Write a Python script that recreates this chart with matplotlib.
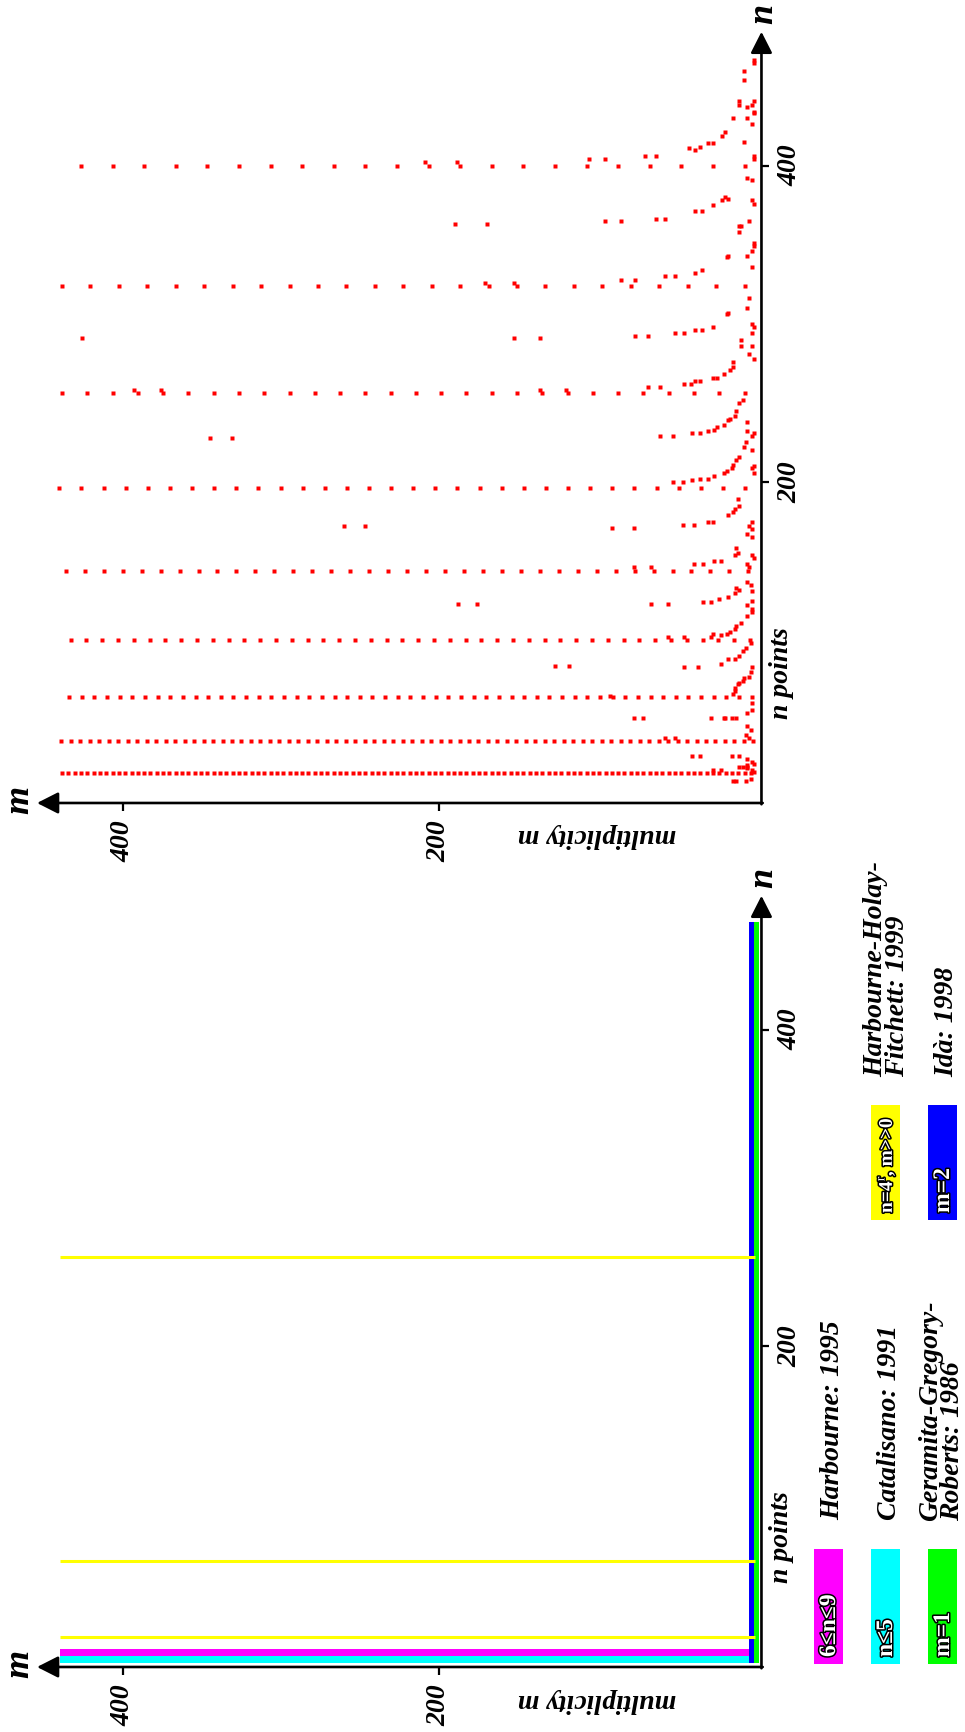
import numpy as np
import matplotlib
matplotlib.use("Agg")
import matplotlib.pyplot as plt
import matplotlib.patheffects as pe
from matplotlib.patches import Rectangle

# ---------------- data ----------------
# full rows at n = k^2 (k even): one point every k in m, from the first m read
# off the picture up to m_max
row_n = [16, 36, 64, 100, 144, 196, 256, 324, 400]
row_step = [4, 6, 8, 10, 12, 14, 16, 18, 20]
row_mfirst = [2.8, 1.2, 2.3, 3.4, 4.4, 6.5, 6.8, 6.8, 6.8]
row_mmax = 441

# scattered points (n, m)
extra_n = [465, 467, 460, 454, 441, 438, 434, 433, 441, 438, 437, 430, 430, 426, 421, 419,
           414, 414, 411, 410, 412, 415, 406, 404, 404, 404, 406, 406, 402, 402,
           392, 391, 380, 379, 378, 375, 371, 371, 366, 366, 365, 365, 363, 363, 378, 376,
           365, 362, 362, 358,
           351, 349, 346, 343, 343, 342, 336, 332, 334, 330, 330, 328, 328, 326, 326,
           316, 310, 306, 307, 300, 298, 294, 298, 296, 296, 294, 294, 292, 292, 291, 291,
           290, 286, 286, 291,
           281, 278, 276, 273, 271, 268, 266, 266, 264, 264, 262, 262, 260, 260, 258, 258,
           258, 258,
           229, 229, 231, 231, 232, 233, 235, 236, 239, 240, 242, 245, 250, 252, 238, 232,
           231, 229, 225, 222, 220, 228, 228,
           210, 209, 206, 216, 214, 211, 209, 207, 206, 204, 202, 202, 201, 200, 200,
           189, 185, 183, 181, 179, 175, 175, 173, 173, 171, 171, 172, 172, 175, 172, 170,
           167, 165,
           158, 155, 154, 150, 150, 148, 148, 146, 146, 154, 152, 148, 146,
           133, 132, 130, 127, 126, 124, 124, 123, 123, 123, 123, 137, 135, 131, 125, 122,
           120, 118, 115,
           111, 109, 107, 105, 104, 103, 104, 102, 102, 102,
           98, 95, 93, 90, 88, 88, 85, 83, 83, 84, 84,
           83, 80, 77, 76, 74, 73, 72, 70, 68, 66, 65,
           60, 56, 54, 51, 51, 51, 51, 51, 51, 51,
           46, 43, 40, 38, 38, 38,
           27, 27, 27, 27, 20, 20, 20, 18, 18, 25, 23, 22, 21, 19, 18, 17,
           11, 11, 11, 12]
extra_m = [1, 1, 7, 7, 1, 2, 1, 1, 10, 10, 5, 14, 5, 2, 19, 21,
           30, 27, 42, 38, 35, 7, 1, 1, 105, 95, 70, 63, 209, 189,
           5, 2, 19, 17, 21, 27, 38, 34, 63, 57, 95, 85, 190, 170, 2, 1,
           4, 10, 9, 10,
           1, 1, 2, 5, 17, 18, 2, 38, 34, 57, 51, 85, 76, 171, 153,
           4, 5, 18, 17, 2, 1, 2, 27, 38, 34, 51, 45, 76, 68, 153, 136,
           9, 9, 2, 426,
           4, 1, 14, 14, 16, 20, 24, 27, 35, 38, 45, 41, 68, 60, 393, 376,
           136, 120,
           60, 52, 40, 35, 30, 26, 24, 20, 17, 16, 13, 12, 10, 8, 5, 5,
           1, 2, 6, 7, 2, 345, 331,
           1, 2, 1, 10, 12, 14, 15, 18, 20, 26, 30, 35, 40, 46, 52,
           11, 10, 13, 14, 17, 27, 30, 39, 46, 77, 91, 260, 247, 2, 4, 2,
           5, 2,
           12, 11, 13, 22, 26, 33, 39, 77, 66, 2, 1, 5, 4,
           12, 10, 13, 17, 23, 28, 33, 55, 66, 188, 176, 5, 3, 2, 2, 5,
           2, 2, 5,
           9, 12, 13, 16, 18, 22, 27, 28, 45, 55,
           3, 6, 8, 10, 13, 17, 22, 36, 45, 127, 118,
           2, 3, 4, 7, 8, 10, 11, 13, 13, 14, 92,
           2, 2, 5, 12, 15, 19, 20, 28, 71, 77,
           5, 3, 6, 4, 57, 51,
           40, 35, 15, 10, 10, 8, 5, 27, 22, 5, 2, 1, 5, 5, 2, 1,
           14, 12, 6, 3]

# known-case regions (bottom panel)
yellow_n = [4, 16, 64, 256]          # n = 4^r
cyan_band = (-0.4, 4.0)              # n <= 5
magenta_band = (4.0, 8.5)            # 6 <= n <= 9
green_band = (-2.2, 0.8)             # m = 1
blue_band = (0.8, 3.8)               # m = 2
band_mmax = 440
strip_nmax = 468

legend_box_labels = ["6\u2264n\u22649", "n\u22645", "m=1", "n=4$^\\mathrm{r}$, m>>0", "m=2"]
legend_texts = ["Harbourne: 1995", "Catalisano: 1991", "Geramita-Gregory-\nRoberts: 1986",
                "Harbourne-Holay-\nFitchett: 1999", "Id\u00e0: 1998"]

# ---------------- layout ----------------
W, H = 965, 1732
plt.rcParams["font.family"] = ["Liberation Serif", "DejaVu Serif"]
plt.rcParams["mathtext.fontset"] = "custom"
plt.rcParams["mathtext.rm"] = "Liberation Serif"
fig = plt.figure(figsize=(W / 100, H / 100), dpi=100)

M0, MPX = 755.3, 1.58      # pixel column of m=0, pixels per unit m
NPX = 1.582                # pixels per unit n
BI = dict(fontstyle="italic", fontweight="bold")


def make_panel(top, bottom, n0):
    ax = fig.add_axes([0, 1 - bottom / H, 1, (bottom - top) / H])
    ax.set_xlim(M0 / MPX, (M0 - W) / MPX)
    ax.set_ylim((n0 - bottom) / NPX, (n0 - top) / NPX)
    ax.patch.set_visible(False)
    for s in ax.spines.values():
        s.set_visible(False)
    org_m, org_n = -3.9, -2.9
    ax.spines["bottom"].set_position(("data", org_n))
    ax.spines["right"].set_position(("data", org_m))
    ax.yaxis.tick_right()
    ax.set_xticks([200, 400], labels=["200", "400"], rotation=90, fontsize=20, **BI)
    ax.set_yticks([200, 400], labels=["200", "400"], rotation=90, fontsize=20, va="center", **BI)
    ax.tick_params(axis="x", direction="out", length=5.8, width=1.6, pad=7)
    ax.tick_params(axis="y", direction="out", length=5.8, width=1.6, pad=5.4)
    arrow = dict(arrowstyle="-|>,head_length=0.65,head_width=0.33", mutation_scale=20,
                 lw=1.9, color="k", shrinkA=0, shrinkB=0)
    ax.annotate("", xy=(454.6, org_n), xytext=(org_m - 0.8, org_n), arrowprops=arrow, zorder=5)
    ax.annotate("", xy=(org_m, 484.6), xytext=(org_m, org_n - 0.8), arrowprops=arrow, zorder=5)
    # axis names
    fig.text(20 / W, 1 - (n0 + 1.5) / H, "m", rotation=90, ha="center", va="center", fontsize=26, **BI)
    fig.text(764 / W, 1 - (n0 - 784.5) / H, "n", rotation=90, ha="center", va="center", fontsize=26, **BI)
    fig.text(781.5 / W, 1 - (n0 - 125.4) / H, "n points", rotation=90, ha="center", va="center",
             fontsize=20, **BI)
    fig.text(597 / W, 1 - (n0 + 37.6) / H, "multiplicity m", rotation=180, ha="center", va="center",
             fontsize=20, **BI)
    return ax


# ---------------- top panel ----------------
ax1 = make_panel(0, 866, 798.4)
for n, k, m1 in zip(row_n, row_step, row_mfirst):
    ms = np.arange(m1, row_mmax, k)
    ax1.plot(ms, np.full(ms.shape, n), "s", ms=2.4, color="red", mec="none")
ax1.plot(extra_m, extra_n, "s", ms=2.4, color="red", mec="none")

# ---------------- bottom panel ----------------
ax2 = make_panel(866, H, 1662.4)
ax2.fill_between([0, band_mmax], *cyan_band, color="#00FFFF", lw=0)
ax2.fill_between([0, band_mmax], *magenta_band, color="#FF00FF", lw=0)
for n in yellow_n[1:]:
    ax2.plot([0, band_mmax], [n, n], color="#FFFF00", lw=2.2, solid_capstyle="butt")
ax2.fill_betweenx([-0.6, strip_nmax], *green_band, color="#00FF00", lw=0)
ax2.fill_betweenx([-0.6, strip_nmax], *blue_band, color="#0000FF", lw=0)

# legend boxes
box_cols = ["#FF00FF", "#00FFFF", "#00FF00", "#FFFF00", "#0000FF"]
box_x = [814, 871, 928, 871, 928]
box_y = [1549, 1549, 1549, 1105, 1105]
box_fs = [17, 17, 17, 14, 17]
for lab, c, x, y, fs in zip(legend_box_labels, box_cols, box_x, box_y, box_fs):
    fig.add_artist(Rectangle((x / W, 1 - (y + 114.5) / H), 28.8 / W, 114.5 / H,
                             transform=fig.transFigure, color=c, lw=0))
    t = fig.text((x + 15.5) / W, 1 - (y + 108) / H, lab, rotation=90, ha="center", va="bottom",
                 fontsize=fs, fontweight="bold", color="white")
    t.set_path_effects([pe.withStroke(linewidth=2.2, foreground="black")])

txt_x = [833, 889, 941.5, 886.5, 947]
txt_y = [1520, 1520, 1521, 1077, 1077]
for s, x, y in zip(legend_texts, txt_x, txt_y):
    fig.text(x / W, 1 - y / H, s, rotation=90, ha="center", va="bottom", fontsize=20,
             linespacing=0.8, multialignment="left", **BI)

fig.savefig("out.png", dpi=100)
